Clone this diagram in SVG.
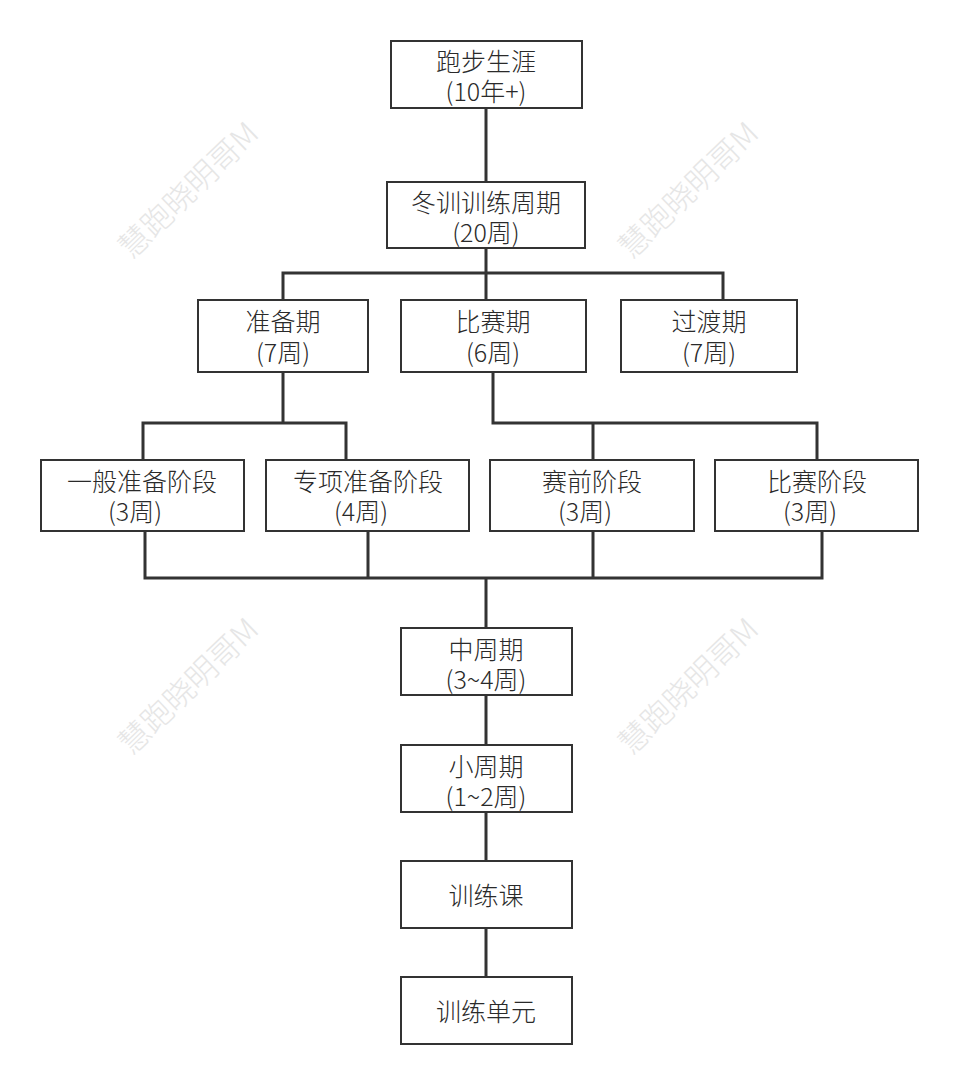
<svg xmlns="http://www.w3.org/2000/svg" width="960" height="1086" viewBox="0 0 960 1086">
<style>
.box{fill:#fff;stroke:#333;stroke-width:2}
.t{font-family:"Microsoft YaHei","Noto Sans CJK SC","Noto Sans",sans-serif;font-size:25px;font-weight:300;fill:#2a2a2a;text-anchor:middle}
.c{fill:none;stroke:#333;stroke-width:3;stroke-linejoin:miter}
.wm{font-family:"Noto Sans CJK SC",sans-serif;font-size:31px;font-weight:300;fill:#e6e6e6;text-anchor:middle}
</style>
<rect width="960" height="1086" fill="#fff"/>
<g id="watermarks">
<text class="wm" transform="translate(196,198) rotate(-44)">慧跑晓明哥M</text>
<text class="wm" transform="translate(696,198) rotate(-44)">慧跑晓明哥M</text>
<text class="wm" transform="translate(196,694) rotate(-44)">慧跑晓明哥M</text>
<text class="wm" transform="translate(696,694) rotate(-44)">慧跑晓明哥M</text>
</g>
<g id="connectors">
<path class="c" d="M486,108V182"/>
<path class="c" d="M486,248V300M283,300V273H723V300"/>
<path class="c" d="M283,372V423M143,460V423H346V460"/>
<path class="c" d="M493,372V423H817V460M593,423V460"/>
<path class="c" d="M145,531V578H822V531M368,531V578M593,531V578M486,578V628"/>
<path class="c" d="M486,695V745"/>
<path class="c" d="M486,812V861"/>
<path class="c" d="M486,928V977"/>
</g>
<g id="n1"><rect class="box" x="391" y="41" width="191" height="67"/><text class="t" x="486" y="71">跑步生涯</text><text class="t" x="486" y="101">(10年+)</text></g>
<g id="n2"><rect class="box" x="387" y="182" width="198" height="66"/><text class="t" x="486" y="212">冬训训练周期</text><text class="t" x="486" y="242">(20周)</text></g>
<g id="n3"><rect class="box" x="198" y="300" width="170" height="72"/><text class="t" x="283" y="331">准备期</text><text class="t" x="283" y="362">(7周)</text></g>
<g id="n4"><rect class="box" x="401" y="300" width="185" height="72"/><text class="t" x="493" y="331">比赛期</text><text class="t" x="493" y="362">(6周)</text></g>
<g id="n5"><rect class="box" x="621" y="300" width="176" height="72"/><text class="t" x="709" y="331">过渡期</text><text class="t" x="709" y="362">(7周)</text></g>
<g id="n6"><rect class="box" x="41" y="460" width="203" height="71"/><text class="t" x="142" y="491">一般准备阶段</text><text class="t" x="135" y="521">(3周)</text></g>
<g id="n7"><rect class="box" x="266" y="460" width="203" height="71"/><text class="t" x="368" y="491">专项准备阶段</text><text class="t" x="361" y="521">(4周)</text></g>
<g id="n8"><rect class="box" x="490" y="460" width="204" height="71"/><text class="t" x="592" y="491">赛前阶段</text><text class="t" x="585" y="521">(3周)</text></g>
<g id="n9"><rect class="box" x="715" y="460" width="203" height="71"/><text class="t" x="817" y="491">比赛阶段</text><text class="t" x="810" y="521">(3周)</text></g>
<g id="n10"><rect class="box" x="401" y="628" width="171" height="67"/><text class="t" x="486" y="659">中周期</text><text class="t" x="486" y="689">(3~4周)</text></g>
<g id="n11"><rect class="box" x="401" y="745" width="171" height="67"/><text class="t" x="486" y="776">小周期</text><text class="t" x="486" y="806">(1~2周)</text></g>
<g id="n12"><rect class="box" x="401" y="861" width="171" height="67"/><text class="t" x="486" y="905">训练课</text></g>
<g id="n13"><rect class="box" x="401" y="977" width="171" height="67"/><text class="t" x="486" y="1021">训练单元</text></g>
</svg>
